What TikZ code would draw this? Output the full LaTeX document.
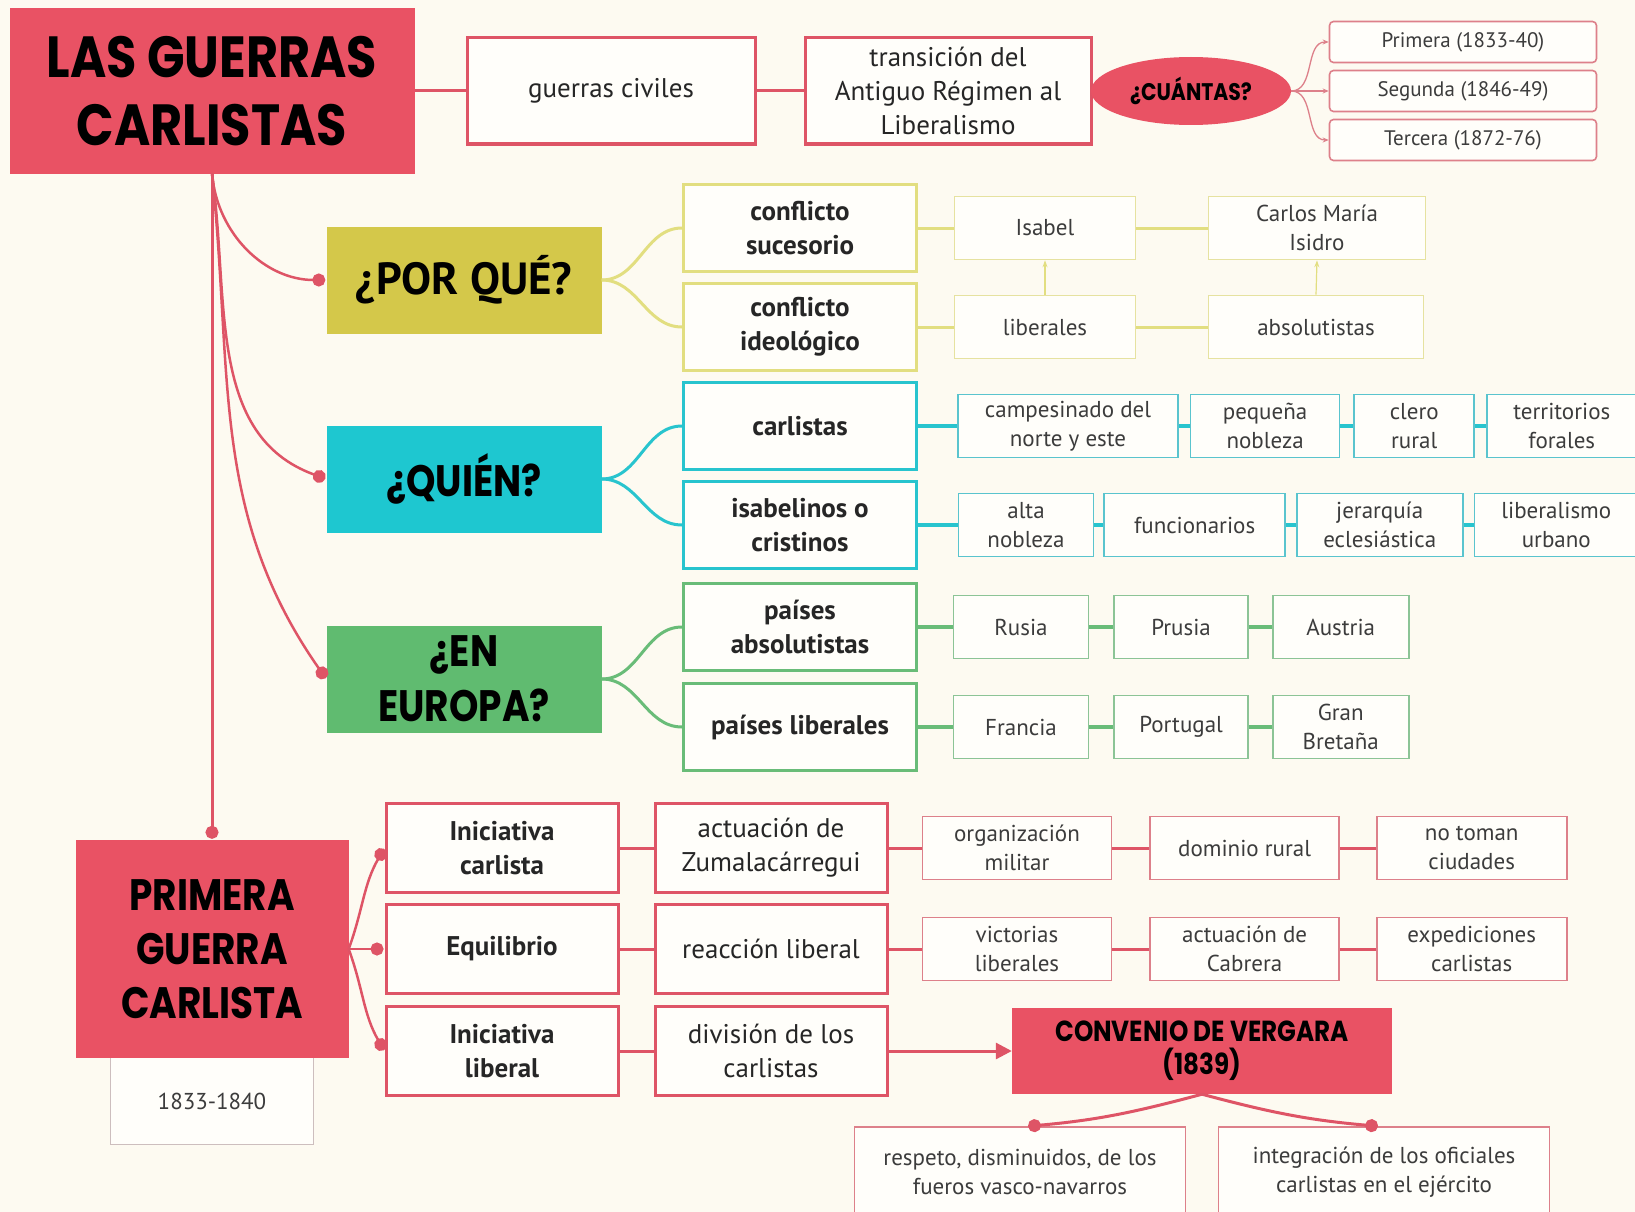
\documentclass[tikz,border=0pt]{standalone}
\usepackage{fontspec}
\setmainfont{PT Sans}
\newfontfamily\headfont[FakeStretch=0.85]{Poppins}
\usepackage{tikz}
\usetikzlibrary{calc}
\usetikzlibrary{positioning}
\usetikzlibrary{shapes.geometric}
\usetikzlibrary{arrows.meta}
\definecolor{bgcream}{RGB}{253,250,241}
\definecolor{boxwhite}{RGB}{255,254,250}
\definecolor{carlred}{RGB}{233,82,100}
\definecolor{redline}{RGB}{222,84,102}
\definecolor{redleaf}{RGB}{221,128,138}
\definecolor{porquefill}{RGB}{212,200,74}
\definecolor{porqueline}{RGB}{226,222,128}
\definecolor{porqueleaf}{RGB}{230,226,160}
\definecolor{quienfill}{RGB}{30,199,208}
\definecolor{quienline}{RGB}{40,196,206}
\definecolor{quienleaf}{RGB}{90,196,206}
\definecolor{europafill}{RGB}{96,187,112}
\definecolor{europaline}{RGB}{105,188,120}
\definecolor{europaleaf}{RGB}{140,196,150}
\definecolor{datebord}{RGB}{205,190,190}
\definecolor{txtgray}{RGB}{60,60,60}
\newcommand{\titlefs}{\fontsize{58}{68}\selectfont}
\newcommand{\primfs}{\fontsize{44}{54}\selectfont}
\newcommand{\askfs}{\fontsize{44}{55}\selectfont}
\newcommand{\bodyfs}{\fontsize{27}{34}\selectfont}
\newcommand{\leaffs}{\fontsize{23}{29}\selectfont}
\newcommand{\smallfs}{\fontsize{21}{26}\selectfont}
\newcommand{\convfs}{\fontsize{29}{33}\selectfont}
\newcommand{\cuantfs}{\fontsize{24}{30}\selectfont}
\tikzstyle{headnode} = [fill=carlred, align=center, inner sep=0pt, text=black]
\tikzstyle{qnode} = [align=center, inner sep=0pt, minimum width=275pt, minimum height=107pt, text=black]
\tikzstyle{kidnode} = [draw, line width=3pt, fill=boxwhite, align=center, inner sep=0pt, minimum width=233pt, minimum height=87pt, font=\bodyfs\bfseries, text=black!85]
\tikzstyle{leafnode} = [draw, line width=1.6pt, fill=boxwhite, align=center, inner sep=0pt, minimum height=63pt, font=\leaffs, text=txtgray]
\tikzstyle{dotend} = [-{Circle[length=13pt]}, shorten >=1pt]

\begin{document}
\begin{tikzpicture}[x=1pt, y=-1pt]
    \useasboundingbox (0,0) rectangle (1635,1212);
    \fill[bgcream] (0,0) rectangle (1635,1212);
    \clip (0,0) rectangle (1635,1212);

    % top row
    \node[headnode, minimum width=405pt, minimum height=165pt, font=\headfont\bfseries\titlefs] (title) at (212,91) {LAS GUERRAS\\CARLISTAS};
    \node[kidnode, draw=redline, font=\bodyfs, minimum width=288pt, minimum height=106pt] (guerras) at ($(title)+(399,0)$) {guerras civiles};
    \node[kidnode, draw=redline, font=\bodyfs, minimum width=286pt, minimum height=106pt] (transicion) at ($(guerras)+(337,0)$) {transición del\\Antiguo Régimen al\\Liberalismo};
    \node[ellipse, fill=carlred, minimum width=200pt, minimum height=68pt, inner sep=0pt, font=\headfont\bfseries\cuantfs] (cuantas) at ($(transicion)+(243,0)$) {¿CUÁNTAS?};
    \node[leafnode, draw=redleaf, rounded corners=4pt, minimum width=267pt, minimum height=41pt, font=\smallfs] (primera_g) at ($(cuantas)+(272,-49)$) {Primera (1833-40)};
    \node[leafnode, draw=redleaf, rounded corners=4pt, minimum width=267pt, minimum height=41pt, font=\smallfs] (segunda_g) at ($(cuantas)+(272,0)$) {Segunda (1846-49)};
    \node[leafnode, draw=redleaf, rounded corners=4pt, minimum width=267pt, minimum height=41pt, font=\smallfs] (tercera_g) at ($(cuantas)+(272,49)$) {Tercera (1872-76)};
    \draw[redline, line width=3pt] (title.east) -- (guerras.west);
    \draw[redline, line width=3pt] (guerras.east) -- (transicion.west);
    \draw[redleaf, line width=1.3pt, -{Stealth[length=6pt,width=5pt]}] (cuantas.east) to[out=0, in=180] (primera_g.west);
    \draw[redleaf, line width=1.3pt, -{Stealth[length=6pt,width=5pt]}] (cuantas.east) -- (segunda_g.west);
    \draw[redleaf, line width=1.3pt, -{Stealth[length=6pt,width=5pt]}] (cuantas.east) to[out=0, in=180] (tercera_g.west);

    % por que
    \node[qnode, fill=porquefill, font=\fontsize{45}{54}\selectfont\bfseries] (porque) at (464,280) {¿POR QUÉ?};
    \node[kidnode, draw=porqueline] (sucesorio) at ($(porque)+(336,-52)$) {conflicto\\sucesorio};
    \node[kidnode, draw=porqueline] (ideologico) at ($(porque)+(336,47)$) {conflicto\\ideológico};
    \node[leafnode, draw=porqueleaf, minimum width=181pt] (isabel) at ($(sucesorio)+(245,0)$) {Isabel};
    \node[leafnode, draw=porqueleaf, minimum width=217pt] (carlos) at ($(isabel)+(272,0)$) {Carlos María\\Isidro};
    \node[leafnode, draw=porqueleaf, minimum width=181pt] (liberales) at ($(ideologico)+(245,0)$) {liberales};
    \node[leafnode, draw=porqueleaf, minimum width=215pt] (absolutistas) at ($(liberales)+(271,0)$) {absolutistas};
    \draw[porqueline, line width=3pt] (porque.east) to[out=0, in=180] (sucesorio.west);
    \draw[porqueline, line width=3pt] (porque.east) to[out=0, in=180] (ideologico.west);
    \draw[porqueline, line width=3pt] (sucesorio.east) -- (isabel.west);
    \draw[porqueline, line width=3pt] (isabel.east) -- (carlos.west);
    \draw[porqueline, line width=3pt] (ideologico.east) -- (liberales.west);
    \draw[porqueline, line width=3pt] (liberales.east) -- (absolutistas.west);
    \draw[porqueline, line width=1.2pt, -{Stealth[length=7pt,width=5pt]}] (liberales.north) -- (isabel.south);
    \draw[porqueline, line width=1.2pt, -{Stealth[length=7pt,width=5pt]}] (absolutistas.north) -- (carlos.south);

    % quien
    \node[qnode, fill=quienfill, font=\headfont\bfseries\askfs] (quien) at (464,479) {¿QUIÉN?};
    \node[kidnode, draw=quienline] (carlistas) at ($(quien)+(336,-53)$) {carlistas};
    \node[kidnode, draw=quienline] (isabelinos) at ($(quien)+(336,46)$) {isabelinos o\\cristinos};
    \node[leafnode, draw=quienleaf, minimum width=220pt] (campesinado) at ($(carlistas)+(268,0)$) {campesinado del\\norte y este};
    \node[leafnode, draw=quienleaf, minimum width=149pt, right=11pt of campesinado] (pequena) {pequeña\\nobleza};
    \node[leafnode, draw=quienleaf, minimum width=120pt, right=13pt of pequena] (clero) {clero\\rural};
    \node[leafnode, draw=quienleaf, minimum width=150pt, right=11pt of clero] (territorios) {territorios\\forales};
    \node[leafnode, draw=quienleaf, minimum width=135pt] (alta) at ($(isabelinos)+(226,0)$) {alta\\nobleza};
    \node[leafnode, draw=quienleaf, minimum width=181pt, right=9pt of alta] (funcionarios) {funcionarios};
    \node[leafnode, draw=quienleaf, minimum width=166pt, right=10pt of funcionarios] (jerarquia) {jerarquía\\eclesiástica};
    \node[leafnode, draw=quienleaf, minimum width=164pt, right=10pt of jerarquia] (urbano) {liberalismo\\urbano};
    \draw[quienline, line width=3pt] (quien.east) to[out=0, in=180] (carlistas.west);
    \draw[quienline, line width=3pt] (quien.east) to[out=0, in=180] (isabelinos.west);
    \draw[quienline, line width=4pt] (carlistas.east) -- (campesinado.west);
    \draw[quienline, line width=4pt] (campesinado.east) -- (pequena.west);
    \draw[quienline, line width=4pt] (pequena.east) -- (clero.west);
    \draw[quienline, line width=4pt] (clero.east) -- (territorios.west);
    \draw[quienline, line width=4pt] (isabelinos.east) -- (alta.west);
    \draw[quienline, line width=4pt] (alta.east) -- (funcionarios.west);
    \draw[quienline, line width=4pt] (funcionarios.east) -- (jerarquia.west);
    \draw[quienline, line width=4pt] (jerarquia.east) -- (urbano.west);

    % en europa
    \node[qnode, fill=europafill, font=\headfont\bfseries\askfs] (europa) at (464,679) {¿EN\\EUROPA?};
    \node[kidnode, draw=europaline] (paises_abs) at ($(europa)+(336,-52)$) {países\\absolutistas};
    \node[kidnode, draw=europaline] (paises_lib) at ($(europa)+(336,48)$) {países liberales};
    \node[leafnode, draw=europaleaf, minimum width=135pt] (rusia) at ($(paises_abs)+(221,0)$) {Rusia};
    \node[leafnode, draw=europaleaf, minimum width=134pt, right=24pt of rusia] (prusia) {Prusia};
    \node[leafnode, draw=europaleaf, minimum width=136pt, right=23pt of prusia] (austria) {Austria};
    \node[leafnode, draw=europaleaf, minimum width=135pt] (francia) at ($(paises_lib)+(221,0)$) {Francia};
    \node[leafnode, draw=europaleaf, minimum width=134pt, right=24pt of francia] (portugal) {Portugal};
    \node[leafnode, draw=europaleaf, minimum width=136pt, right=23pt of portugal] (bretana) {Gran\\Bretaña};
    \draw[europaline, line width=3pt] (europa.east) to[out=0, in=180] (paises_abs.west);
    \draw[europaline, line width=3pt] (europa.east) to[out=0, in=180] (paises_lib.west);
    \draw[europaline, line width=4pt] (paises_abs.east) -- (rusia.west);
    \draw[europaline, line width=4pt] (rusia.east) -- (prusia.west);
    \draw[europaline, line width=4pt] (prusia.east) -- (austria.west);
    \draw[europaline, line width=4pt] (paises_lib.east) -- (francia.west);
    \draw[europaline, line width=4pt] (francia.east) -- (portugal.west);
    \draw[europaline, line width=4pt] (portugal.east) -- (bretana.west);

    % primera guerra
    \node[draw=datebord, line width=1.5pt, fill=boxwhite, minimum width=203pt, minimum height=87pt, font=\leaffs, text=txtgray] (fechas) at (212,1101) {1833-1840};
    \node[headnode, minimum width=273pt, minimum height=218pt, font=\headfont\bfseries\primfs] (primera) at (212,949) {PRIMERA\\GUERRA\\CARLISTA};
    \node[kidnode, draw=redline, minimum width=232pt, minimum height=89pt] (ini_carlista) at ($(primera)+(290,-101)$) {Iniciativa\\carlista};
    \node[kidnode, draw=redline, minimum width=232pt, minimum height=89pt] (equilibrio) at ($(primera)+(290,0)$) {Equilibrio};
    \node[kidnode, draw=redline, minimum width=232pt, minimum height=89pt] (ini_liberal) at ($(primera)+(290,102)$) {Iniciativa\\liberal};
    \node[kidnode, draw=redline, font=\bodyfs, minimum width=232pt, minimum height=89pt] (zumala) at ($(ini_carlista)+(269,0)$) {actuación de\\Zumalacárregui};
    \node[kidnode, draw=redline, font=\bodyfs, minimum width=232pt, minimum height=89pt] (reaccion) at ($(equilibrio)+(269,0)$) {reacción liberal};
    \node[kidnode, draw=redline, font=\bodyfs, minimum width=232pt, minimum height=89pt] (division) at ($(ini_liberal)+(269,0)$) {división de los\\carlistas};
    \node[leafnode, draw=redleaf, minimum width=189pt] (organizacion) at ($(zumala)+(246,0)$) {organización\\militar};
    \node[leafnode, draw=redleaf, minimum width=189pt, right=37pt of organizacion] (dominio) {dominio rural};
    \node[leafnode, draw=redleaf, minimum width=190pt, right=36pt of dominio] (no_toman) {no toman\\ciudades};
    \node[leafnode, draw=redleaf, minimum width=189pt] (victorias) at ($(reaccion)+(246,0)$) {victorias\\liberales};
    \node[leafnode, draw=redleaf, minimum width=189pt, right=37pt of victorias] (cabrera) {actuación de\\Cabrera};
    \node[leafnode, draw=redleaf, minimum width=190pt, right=36pt of cabrera] (expediciones) {expediciones\\carlistas};
    \node[headnode, minimum width=380pt, minimum height=86pt, font=\headfont\bfseries\convfs] (convenio) at ($(division)+(431,0)$) {CONVENIO DE VERGARA\\(1839)};
    \node[leafnode, draw=redleaf, minimum width=331pt, minimum height=90pt] (respeto) at (1020,1172) {respeto, disminuidos, de los\\fueros vasco-navarros};
    \node[leafnode, draw=redleaf, minimum width=331pt, minimum height=90pt] (integracion) at (1384,1172) {integración de los oficiales\\carlistas en el ejército};
    \draw[redline, line width=2.5pt, dotend] (primera.east) to[out=70, in=240] (ini_carlista.west);
    \draw[redline, line width=2.5pt, dotend] (primera.east) -- (equilibrio.west);
    \draw[redline, line width=2.5pt, dotend] (primera.east) to[out=-70, in=120] (ini_liberal.west);
    \draw[redline, line width=3pt] (ini_carlista.east) -- (zumala.west);
    \draw[redline, line width=3pt] (equilibrio.east) -- (reaccion.west);
    \draw[redline, line width=3pt] (ini_liberal.east) -- (division.west);
    \draw[redline, line width=3pt] (zumala.east) -- (organizacion.west);
    \draw[redline, line width=3pt] (organizacion.east) -- (dominio.west);
    \draw[redline, line width=3pt] (dominio.east) -- (no_toman.west);
    \draw[redline, line width=3pt] (reaccion.east) -- (victorias.west);
    \draw[redline, line width=3pt] (victorias.east) -- (cabrera.west);
    \draw[redline, line width=3pt] (cabrera.east) -- (expediciones.west);
    \draw[redline, line width=3pt, -{Triangle[length=16pt,width=16pt]}] (division.east) -- (convenio.west);
    \draw[redline, line width=3pt, -{Circle[length=13pt]}] (convenio.south) to[out=-165, in=5] ($(respeto.north)+(8,0)$);
    \draw[redline, line width=3pt, -{Circle[length=13pt]}] (convenio.south) to[out=-15, in=175] ($(integracion.north)+(-6,0)$);

    % spine from title
    \draw[redline, line width=3pt, dotend] (title.south) -- (primera.north);
    \draw[redline, line width=2.5pt, dotend] (title.south) to[out=-85, in=180] (porque.west);
    \draw[redline, line width=2.5pt, dotend] (title.south) to[out=-82, in=160] (quien.west);
    \draw[redline, line width=2.5pt, dotend] (title.south) to[out=-84, in=125] (europa.west);
\end{tikzpicture}
\end{document}
